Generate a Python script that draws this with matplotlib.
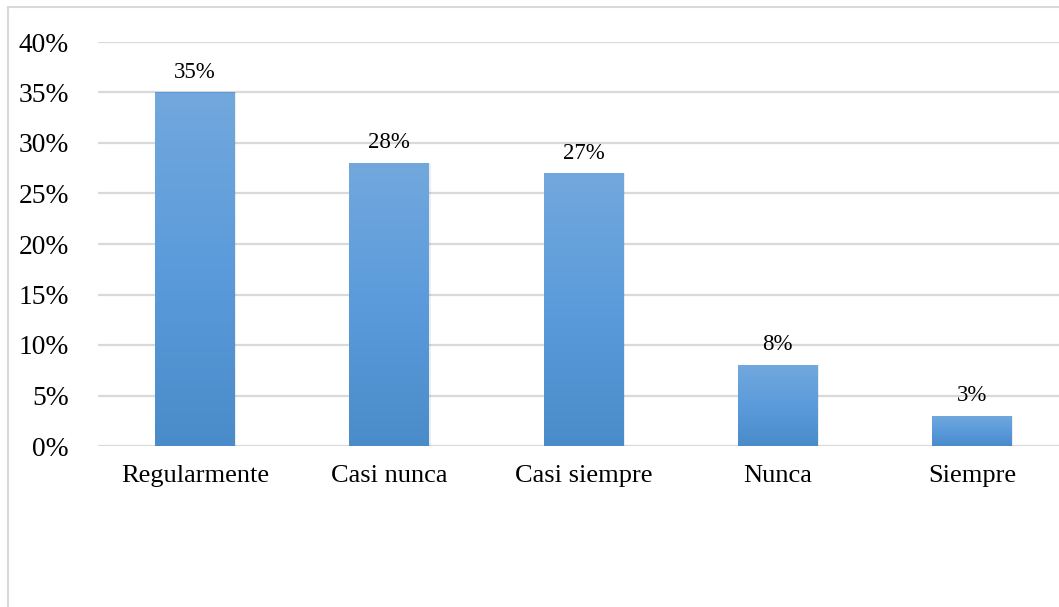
import matplotlib
matplotlib.use("Agg")
import matplotlib.pyplot as plt
import numpy as np
from matplotlib.patches import Rectangle
from matplotlib.colors import LinearSegmentedColormap

categories = ["Regularmente", "Casi nunca", "Casi siempre", "Nunca", "Siempre"]
values = [35, 28, 27, 8, 3]
yticks = [0, 5, 10, 15, 20, 25, 30, 35, 40]

plt.rcParams['font.family'] = ['Liberation Serif', 'DejaVu Serif']

W, H = 1059, 607
fig = plt.figure(figsize=(W / 100, H / 100), dpi=100)

# outer chart frame
fig.patches.append(Rectangle((8 / W, -0.05), 1.2, (H - 7) / H + 0.05, transform=fig.transFigure,
                             fill=False, edgecolor="#d9d9d9", linewidth=1.5))

left = 98 / W
right = 1069 / W
bottom = (H - 446) / H
top = (H - 42) / H
ax = fig.add_axes([left, bottom, right - left, top - bottom])
ax.set_xlim(-0.5, len(categories) - 0.5)
ax.set_ylim(0, 40)

for s in ax.spines.values():
    s.set_visible(False)
ax.set_yticks(yticks)
ax.set_yticklabels([f"{t}%" for t in yticks], fontsize=19.8, color="#000000")
ax.yaxis.grid(True, color="#d9d9d9", linewidth=1.6)
ax.set_axisbelow(True)
ax.tick_params(axis="y", length=0, pad=21)
ax.tick_params(axis="x", length=0, pad=14)
ax.set_xticks(range(len(categories)))
ax.set_xticklabels(categories, fontsize=19, color="#000000")

x = np.arange(len(categories))
bars = ax.bar(x, values, width=0.41, color="#5b9bd5", zorder=2, linewidth=0)

cmap = LinearSegmentedColormap.from_list("g", ["#4a8bca", "#5b9bdb", "#72a8dd"])
grad = np.linspace(0, 1, 256).reshape(-1, 1)
for b in bars:
    bx, by = b.get_x(), b.get_y()
    bw, bh = b.get_width(), b.get_height()
    # subtle shadow
    sh = Rectangle((bx + 0.008, by), bw, bh, facecolor="#000000", alpha=0.07, zorder=1.5,
                   linewidth=0)
    ax.add_patch(sh)
    im = ax.imshow(grad, extent=[bx, bx + bw, by, by + bh], origin="lower", cmap=cmap,
                   aspect="auto", zorder=3)
    im.set_clip_path(b)

for xi, v in zip(x, values):
    ax.annotate(f"{v}%", (xi, v), xytext=(0, 7), textcoords="offset points",
                ha="center", va="bottom", fontsize=16.5, color="#000000")

ax.set_xlim(-0.5, len(categories) - 0.5)
ax.set_ylim(0, 40)

fig.savefig("out.png", dpi=100)
